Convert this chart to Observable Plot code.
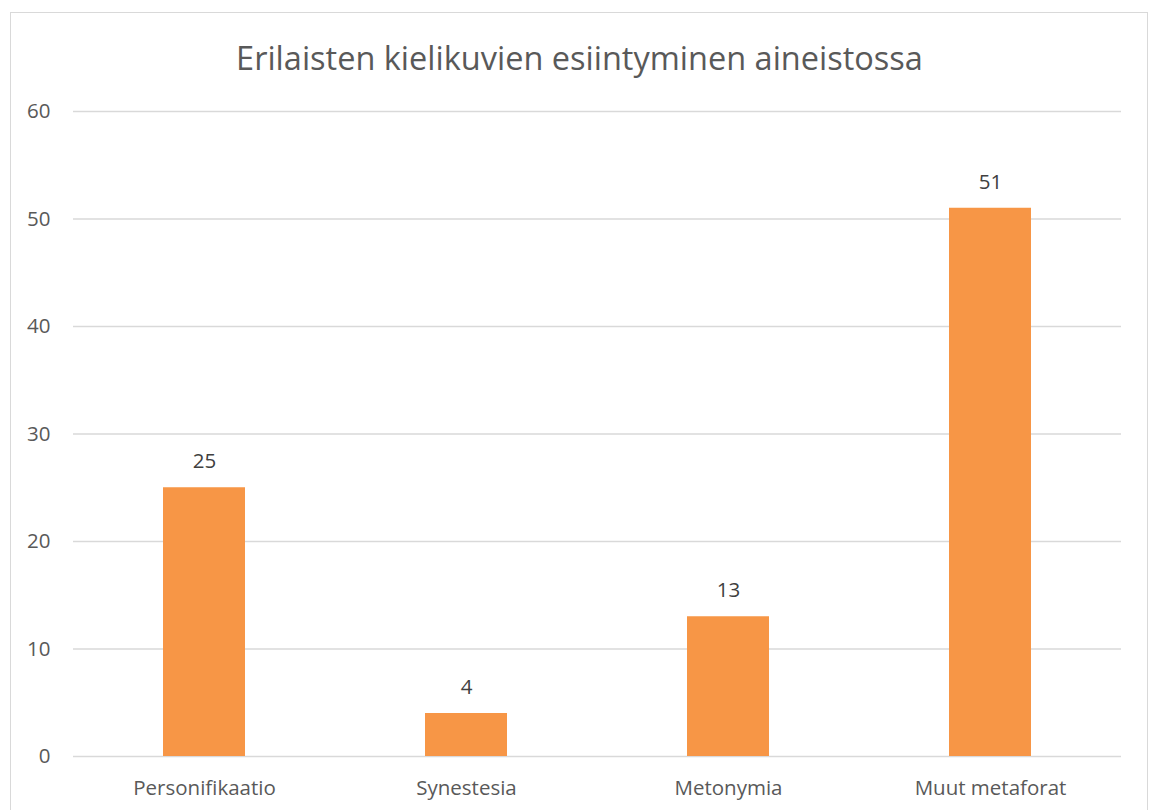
<!DOCTYPE html>
<html><head><meta charset="utf-8">
<script src="https://cdn.jsdelivr.net/npm/d3@7"></script>
<script src="https://cdn.jsdelivr.net/npm/@observablehq/plot@0.6"></script>
<style>
html,body{margin:0;padding:0;background:#fff;width:1152px;height:810px;overflow:hidden;}
#frame{position:absolute;left:10px;top:12px;width:1138px;height:820px;border:1px solid #d9d9d9;box-sizing:border-box;}
#title{position:absolute;left:10px;width:1139px;top:37px;text-align:center;font-family:"Open Sans",sans-serif;font-size:32.5px;color:#595959;line-height:42px;}
#chart{position:absolute;left:0;top:0;}
</style></head>
<body>
<div id="frame"></div>
<div id="title">Erilaisten kielikuvien esiintyminen aineistossa</div>
<div id="chart"></div>
<script>
const categories = ["Personifikaatio", "Synestesia", "Metonymia", "Muut metaforat"];
const values = [25, 4, 13, 51];
const yTicks = [0, 10, 20, 30, 40, 50, 60];
const data = categories.map((c, i) => ({category: c, value: values[i]}));

const chart = Plot.plot({
  width: 1152,
  height: 810,
  marginLeft: 73,
  marginRight: 31,
  marginTop: 111,
  marginBottom: 54,
  style: {fontFamily: "'Open Sans', sans-serif", fontSize: "20.5px", color: "#595959", background: "transparent"},
  x: {domain: categories, paddingInner: 0.687, paddingOuter: 0.3435, label: null},
  y: {domain: [0, 60], ticks: yTicks, label: null},
  marks: [
    Plot.gridY(yTicks, {stroke: "#d9d9d9", strokeOpacity: 1, strokeWidth: 1.5}),
    Plot.barY(data, {x: "category", y: "value", fill: "#f79646"}),
    Plot.text(data, {x: "category", y: "value", text: d => String(d.value), dy: -26, fill: "#404040", fontSize: 20.5}),
    Plot.axisY({ticks: yTicks, tickSize: 0, tickPadding: 23, fill: "#595959"}),
    Plot.axisX({tickSize: 0, tickPadding: 24, fill: "#595959"})
  ]
});
document.getElementById("chart").appendChild(chart);
</script>
</body></html>
